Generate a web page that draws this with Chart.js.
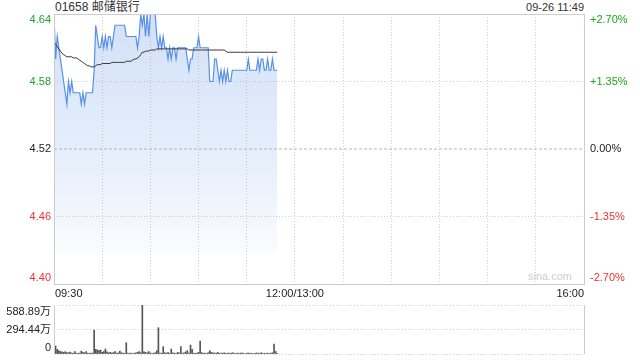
<!DOCTYPE html>
<html>

<head>
    <meta charset="UTF-8">
    <title>01658 邮储银行 分时图</title>
    <script src="https://cdn.jsdelivr.net/npm/chart.js@4.4.0/dist/chart.umd.min.js"></script>
    <style>
        body {
            margin: 0;
            background: #fff;
            font-family: "Liberation Sans", Arial, "Noto Sans CJK SC", sans-serif;
        }

        #wrap {
            position: relative;
            width: 640px;
            height: 360px;
            overflow: hidden;
        }

        canvas {
            position: absolute;
            left: 0;
        }

        .head {
            position: absolute;
            top: 0;
            line-height: 14px;
            color: #333;
        }
    </style>
</head>

<body>
    <div id="wrap">
        <div class="head" style="left:55px; font-size:12px;">01658 邮储银行</div>
        <div class="head" style="right:56px; font-size:11px;">09-26 11:49</div>
        <canvas id="priceChart" width="640" height="300" style="top:0"></canvas>
        <canvas id="volChart" width="640" height="60" style="top:300px"></canvas>
    </div>

    <script>
        // minutes since 09:30 (lunch break removed), 330 = 16:00
        const prevClose = 4.52;
        const priceTicks = [4.40, 4.46, 4.52, 4.58, 4.64];
        const pctValues = [-2.70, -1.35, 0, 1.35, 2.70];
        const pctLabels = ['-2.70%', '-1.35%', '0.00%', '+1.35%', '+2.70%'];
        const timeLabels = ['09:30', '12:00/13:00', '16:00'];
        const timeLabelAt = [0, 150, 330];
        const volTicks = [0, 294.44, 588.89];
        const volLabels = ['0', '294.44万', '588.89万'];

        const prices = [
            4.64, 4.60, 4.62, 4.61, 4.60, 4.59, 4.58, 4.57, 4.56, 4.58,
            4.57, 4.58, 4.57, 4.57, 4.57, 4.57, 4.57, 4.56, 4.57, 4.56,
            4.57, 4.57, 4.57, 4.57, 4.57, 4.59, 4.63, 4.62, 4.61, 4.61,
            4.62, 4.61, 4.62, 4.61, 4.62, 4.62, 4.61, 4.62, 4.63, 4.63,
            4.63, 4.63, 4.63, 4.63, 4.63, 4.62, 4.62, 4.62, 4.62, 4.62,
            4.62, 4.62, 4.61, 4.62, 4.64, 4.63, 4.64, 4.62, 4.64, 4.62,
            4.64, 4.64, 4.64, 4.64, 4.62, 4.61, 4.62, 4.61, 4.62, 4.61,
            4.61, 4.60, 4.61, 4.60, 4.61, 4.61, 4.60, 4.61, 4.61, 4.61,
            4.61, 4.61, 4.61, 4.60, 4.59, 4.60, 4.60, 4.61, 4.61, 4.61,
            4.62, 4.61, 4.61, 4.61, 4.61, 4.61, 4.61, 4.58, 4.58, 4.58,
            4.60, 4.60, 4.59, 4.58, 4.59, 4.58, 4.59, 4.58, 4.59, 4.58,
            4.58, 4.59, 4.59, 4.59, 4.59, 4.59, 4.59, 4.59, 4.59, 4.59,
            4.59, 4.60, 4.59, 4.59, 4.59, 4.59, 4.59, 4.60, 4.59, 4.60,
            4.60, 4.59, 4.59, 4.60, 4.59, 4.59, 4.60, 4.59, 4.59, 4.59
        ];

        const avgPrices = [
            4.615, 4.613, 4.611, 4.609, 4.607, 4.605, 4.604, 4.603, 4.602, 4.602,
            4.602, 4.602, 4.601, 4.601, 4.601, 4.600, 4.599, 4.598, 4.597, 4.596,
            4.595, 4.594, 4.594, 4.593, 4.593, 4.593, 4.594, 4.595, 4.595, 4.595,
            4.596, 4.596, 4.596, 4.596, 4.596, 4.596, 4.597, 4.597, 4.597, 4.597,
            4.597, 4.597, 4.597, 4.597, 4.597, 4.598, 4.598, 4.598, 4.598, 4.599,
            4.600, 4.600, 4.601, 4.602, 4.604, 4.606, 4.606, 4.607, 4.607, 4.607,
            4.608, 4.608, 4.608, 4.608, 4.609, 4.609, 4.609, 4.609, 4.609, 4.609,
            4.609, 4.609, 4.609, 4.609, 4.609, 4.609, 4.609, 4.609, 4.609, 4.609,
            4.609, 4.609, 4.609, 4.609, 4.608, 4.608, 4.608, 4.608, 4.608, 4.608,
            4.608, 4.608, 4.608, 4.608, 4.608, 4.608, 4.608, 4.608, 4.608, 4.608,
            4.608, 4.608, 4.608, 4.608, 4.608, 4.608, 4.608, 4.607, 4.606, 4.606,
            4.606, 4.606, 4.606, 4.606, 4.606, 4.606, 4.606, 4.606, 4.606, 4.606,
            4.606, 4.606, 4.606, 4.606, 4.606, 4.606, 4.606, 4.606, 4.606, 4.606,
            4.606, 4.606, 4.606, 4.606, 4.606, 4.606, 4.606, 4.606, 4.606, 4.606
        ];

        // volume, 万股
        const volumes = [
            368, 96, 56, 40, 30, 25, 20, 28, 18, 15,
            22, 12, 10, 30, 8, 12, 10, 35, 20, 15,
            28, 10, 8, 12, 10, 288, 56, 48, 40, 48,
            20, 30, 60, 25, 15, 20, 12, 18, 30, 10,
            12, 35, 15, 10, 8, 136, 10, 8, 12, 6,
            10, 15, 20, 30, 15, 588.89, 25, 20, 15, 30,
            12, 8, 10, 15, 40, 316, 12, 10, 88, 15,
            10, 20, 8, 60, 15, 10, 8, 20, 12, 88,
            10, 15, 25, 40, 12, 108, 55, 10, 8, 12,
            20, 156, 15, 10, 12, 8, 15, 40, 20, 15,
            12, 10, 20, 8, 12, 10, 15, 8, 10, 12,
            8, 15, 10, 6, 12, 8, 10, 15, 8, 6,
            10, 12, 8, 10, 6, 8, 12, 10, 8, 15,
            6, 10, 8, 12, 6, 10, 15, 120, 30, 8
        ];

        const FONT = '11px "Liberation Sans", Arial, "Noto Sans CJK SC", sans-serif';
        const GREEN = '#1fa51f';
        const RED = '#f23030';
        const GRID = '#cfcfcf';

        function colorFor(v, base) {
            if (Math.abs(v - base) < 1e-9) return '#222';
            return v > base ? GREEN : RED;
        }

        function clampY(y, area) {
            return Math.min(Math.max(y, area.top + 6), area.bottom - 6);
        }

        const priceLabels = {
            id: 'priceLabels',
            afterDraw(chart) {
                const {ctx, chartArea: a, scales} = chart;
                ctx.save();
                // frame
                ctx.strokeStyle = '#cccccc';
                ctx.lineWidth = 1;
                ctx.strokeRect(a.left + 0.5, a.top + 0.5, a.right - a.left, a.bottom - a.top);
                ctx.font = FONT;
                ctx.textBaseline = 'middle';
                // left price labels
                ctx.textAlign = 'right';
                priceTicks.forEach(v => {
                    ctx.fillStyle = colorFor(v, prevClose);
                    ctx.fillText(v.toFixed(2), a.left - 3, clampY(scales.y.getPixelForValue(v), a));
                });
                // right percent labels
                ctx.textAlign = 'left';
                pctValues.forEach((v, i) => {
                    ctx.fillStyle = colorFor(v, 0);
                    ctx.fillText(pctLabels[i], a.right + 6, clampY(scales.yPct.getPixelForValue(v), a));
                });
                // time labels
                ctx.fillStyle = '#222';
                timeLabels.forEach((t, i) => {
                    ctx.textAlign = i === 0 ? 'left' : (i === timeLabels.length - 1 ? 'right' : 'center');
                    ctx.fillText(t, scales.x.getPixelForValue(timeLabelAt[i]) + (i === 0 ? 1 : 0), a.bottom + 10);
                });
                // watermark
                ctx.fillStyle = '#cccccc';
                ctx.textAlign = 'right';
                ctx.fillText('sina.com', a.right - 12, a.bottom - 7);
                ctx.restore();
            }
        };

        const volLabelsPlugin = {
            id: 'volLabels',
            afterDraw(chart) {
                const {ctx, chartArea: a, scales} = chart;
                ctx.save();
                ctx.strokeStyle = '#cccccc';
                ctx.lineWidth = 1;
                ctx.beginPath();
                ctx.moveTo(a.left + 0.5, a.top);
                ctx.lineTo(a.left + 0.5, a.bottom);
                ctx.moveTo(a.right + 0.5, a.top);
                ctx.lineTo(a.right + 0.5, a.bottom);
                ctx.stroke();
                ctx.font = FONT;
                ctx.textBaseline = 'middle';
                ctx.textAlign = 'right';
                ctx.fillStyle = '#222';
                volTicks.forEach((v, i) => {
                    const y = Math.min(Math.max(scales.y.getPixelForValue(v), a.top + 7), a.bottom - 6);
                    ctx.fillText(volLabels[i], a.left - 3, y);
                });
                ctx.restore();
            }
        };

        const toPoints = arr => arr.map((v, i) => ({x: i, y: v}));

        new Chart(document.getElementById('priceChart'), {
            type: 'line',
            data: {
                datasets: [{
                    label: '均价',
                    data: toPoints(avgPrices),
                    borderColor: '#333333',
                    borderWidth: 1,
                    pointRadius: 0,
                    fill: false,
                    tension: 0,
                    order: 1
                }, {
                    label: '价格',
                    data: toPoints(prices),
                    borderColor: 'rgb(88,143,232)',
                    borderWidth: 1.2,
                    pointRadius: 0,
                    tension: 0,
                    order: 2,
                    fill: 'start',
                    backgroundColor: function(context) {
                        const {ctx, chartArea} = context.chart;
                        if (!chartArea) return 'rgba(90,145,230,0.25)';
                        const g = ctx.createLinearGradient(0, chartArea.top, 0, chartArea.bottom);
                        g.addColorStop(0, 'rgba(90,145,230,0.27)');
                        g.addColorStop(0.5, 'rgba(90,145,230,0.16)');
                        g.addColorStop(0.88, 'rgba(90,145,230,0.03)');
                        g.addColorStop(0.89, 'rgba(90,145,230,0)');
                        return g;
                    }
                }, {
                    label: '昨收',
                    data: [{x: 0, y: prevClose}, {x: 330, y: prevClose}],
                    borderColor: '#b4b4b4',
                    borderWidth: 1,
                    borderDash: [3, 2],
                    pointRadius: 0,
                    fill: false,
                    order: 0
                }]
            },
            options: {
                responsive: false,
                animation: false,
                layout: {
                    padding: {left: 54, right: 56, top: 14, bottom: 16}
                },
                scales: {
                    x: {
                        type: 'linear',
                        min: 0,
                        max: 330,
                        ticks: {display: false, stepSize: 30},
                        grid: {color: GRID, drawTicks: false},
                        border: {display: false, dash: [1, 2]}
                    },
                    y: {
                        min: 4.40,
                        max: 4.64,
                        afterBuildTicks: s => { s.ticks = priceTicks.map(v => ({value: v})); },
                        ticks: {display: false},
                        grid: {
                            drawTicks: false,
                            color: c => (c.tick && Math.abs(c.tick.value - prevClose) < 1e-9) ? 'rgba(0,0,0,0)' : GRID
                        },
                        border: {display: false, dash: [1, 2]}
                    },
                    yPct: {
                        position: 'right',
                        min: -2.70,
                        max: 2.70,
                        ticks: {display: false},
                        grid: {display: false, drawTicks: false},
                        border: {display: false}
                    }
                },
                plugins: {
                    legend: {display: false},
                    tooltip: {enabled: false}
                }
            },
            plugins: [priceLabels]
        });

        new Chart(document.getElementById('volChart'), {
            type: 'bar',
            data: {
                datasets: [{
                    label: '成交量',
                    data: toPoints(volumes),
                    backgroundColor: '#555555',
                    barThickness: 1
                }]
            },
            options: {
                responsive: false,
                animation: false,
                layout: {
                    padding: {left: 54, right: 56, top: 5, bottom: 6}
                },
                scales: {
                    x: {
                        type: 'linear',
                        min: 0,
                        max: 330,
                        offset: false,
                        ticks: {display: false},
                        grid: {display: false, offset: false, drawTicks: false},
                        border: {display: false}
                    },
                    y: {
                        min: 0,
                        max: 588.89,
                        afterBuildTicks: s => { s.ticks = volTicks.map(v => ({value: v})); },
                        ticks: {display: false},
                        grid: {color: GRID, drawTicks: false},
                        border: {display: false, dash: [1, 2]}
                    }
                },
                plugins: {
                    legend: {display: false},
                    tooltip: {enabled: false}
                }
            },
            plugins: [volLabelsPlugin]
        });
    </script>
</body>

</html>
